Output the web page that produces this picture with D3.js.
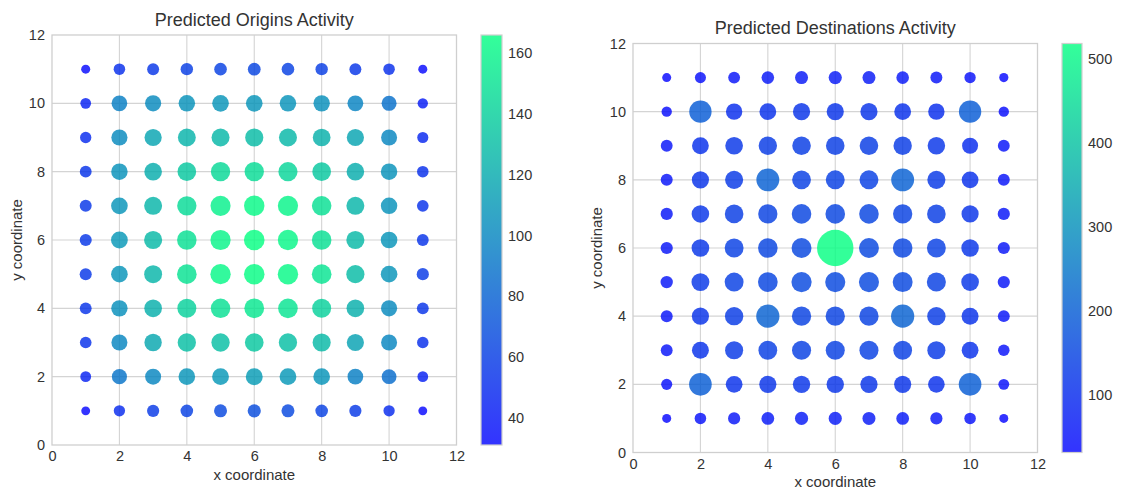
<!DOCTYPE html>
<html>
<head>
<meta charset="utf-8">
<script src="https://cdn.jsdelivr.net/npm/d3@7"></script>
<style>
  html, body { margin: 0; padding: 0; background: #ffffff; }
  svg { display: block; }
  text { font-family: "Liberation Sans", Arial, Helvetica, sans-serif; fill: #333333; }
</style>
</head>
<body>
<svg id="chart" width="1123" height="490"></svg>
<script>
// Grid coordinates of the zones
const xCoords = [1, 2, 3, 4, 5, 6, 7, 8, 9, 10, 11];
const yCoords = [11, 10, 9, 8, 7, 6, 5, 4, 3, 2, 1]; // one row of values per y, top row first

// Predicted origin activity, rows for y = 11 … 1, columns for x = 1 … 11
const originValues = [
  [32, 52, 56, 60, 62, 64, 62, 60, 56, 52, 32],
  [45, 96, 102, 106, 108, 108, 107, 105, 98, 88, 42],
  [50, 102, 116, 125, 127, 129, 127, 123, 116, 100, 48],
  [55, 106, 121, 136, 145, 147, 143, 136, 121, 106, 52],
  [56, 108, 126, 146, 158, 163, 160, 149, 126, 106, 53],
  [57, 110, 128, 149, 160, 166, 161, 149, 128, 108, 55],
  [57, 108, 126, 150, 162, 165, 163, 151, 129, 108, 58],
  [55, 105, 122, 141, 149, 153, 151, 141, 122, 102, 55],
  [53, 100, 118, 131, 131, 136, 131, 128, 115, 100, 52],
  [46, 90, 100, 108, 110, 112, 110, 108, 96, 86, 45],
  [31, 50, 58, 62, 66, 68, 66, 62, 58, 50, 31]
];

// Predicted destination activity, same layout
const destinationValues = [
  [32, 48, 55, 62, 66, 68, 66, 62, 56, 50, 33],
  [42, 195, 105, 110, 115, 115, 115, 110, 105, 195, 42],
  [55, 110, 122, 132, 135, 135, 135, 132, 120, 100, 55],
  [56, 115, 128, 205, 138, 140, 140, 205, 128, 110, 56],
  [58, 120, 135, 145, 150, 150, 150, 145, 135, 115, 58],
  [58, 122, 140, 150, 155, 518, 155, 150, 140, 120, 58],
  [60, 125, 140, 152, 160, 158, 158, 155, 142, 122, 58],
  [56, 115, 132, 210, 145, 145, 145, 210, 132, 112, 55],
  [55, 112, 128, 138, 142, 142, 142, 138, 128, 110, 52],
  [48, 200, 110, 115, 118, 118, 116, 115, 108, 200, 46],
  [32, 52, 58, 64, 68, 68, 66, 64, 58, 52, 32]
];

const axisTicks = [0, 2, 4, 6, 8, 10, 12];
const originColorTicks = [40, 60, 80, 100, 120, 140, 160];
const destinationColorTicks = [100, 200, 300, 400, 500];

const titles = ["Predicted Origins Activity", "Predicted Destinations Activity"];
const xLabel = "x coordinate";
const yLabel = "y coordinate";

// "winter" colour ramp: blue -> spring green
const winter = d3.interpolateRgb("rgb(0,0,255)", "rgb(0,255,128)");
const markerOpacity = 0.8;

// Marker area proportional to the value
const radius = d3.scaleSqrt().domain([0, 100]).range([0, 8]);

const svg = d3.select("#chart");

const panels = [
  {
    id: "origins", title: titles[0], values: originValues, colorTicks: originColorTicks,
    plot: { left: 52, right: 456.5, top: 35, bottom: 445 },
    bar: { left: 481, width: 21 },
    titleY: 20, xLabelY: 475, yLabelX: 17
  },
  {
    id: "destinations", title: titles[1], values: destinationValues, colorTicks: destinationColorTicks,
    plot: { left: 633, right: 1037.5, top: 43.5, bottom: 452.5 },
    bar: { left: 1062, width: 20 },
    titleY: 28, xLabelY: 482, yLabelX: 597
  }
];

panels.forEach(p => {
  const g = svg.append("g").attr("class", "panel-" + p.id);
  const x = d3.scaleLinear().domain([0, 12]).range([p.plot.left, p.plot.right]);
  const y = d3.scaleLinear().domain([0, 12]).range([p.plot.bottom, p.plot.top]);

  const points = [];
  p.values.forEach((row, ri) => row.forEach((v, ci) => points.push({ x: xCoords[ci], y: yCoords[ri], v })));
  const extent = d3.extent(points, d => d.v);
  const color = d3.scaleSequential(winter).domain(extent);

  // grid
  const grid = g.append("g").attr("class", "grid");
  grid.selectAll("line.gx").data(axisTicks.slice(1, -1)).join("line")
    .attr("x1", d => x(d)).attr("x2", d => x(d))
    .attr("y1", p.plot.top).attr("y2", p.plot.bottom)
    .attr("stroke", "#d4d4d4").attr("stroke-width", 1.1);
  grid.selectAll("line.gy").data(axisTicks.slice(1, -1)).join("line")
    .attr("y1", d => y(d)).attr("y2", d => y(d))
    .attr("x1", p.plot.left).attr("x2", p.plot.right)
    .attr("stroke", "#d4d4d4").attr("stroke-width", 1.1);

  // frame
  g.append("rect")
    .attr("x", p.plot.left).attr("y", p.plot.top)
    .attr("width", p.plot.right - p.plot.left).attr("height", p.plot.bottom - p.plot.top)
    .attr("fill", "none").attr("stroke", "#cfcfcf").attr("stroke-width", 1.3);

  // markers
  g.append("g").attr("class", "markers")
    .selectAll("circle").data(points).join("circle")
    .attr("cx", d => x(d.x)).attr("cy", d => y(d.y))
    .attr("r", d => radius(d.v))
    .attr("fill", d => color(d.v))
    .attr("fill-opacity", markerOpacity);

  // axes
  const xAxis = g.append("g").attr("transform", `translate(0,${p.plot.bottom})`)
    .call(d3.axisBottom(x).tickValues(axisTicks).tickSize(0).tickPadding(6).tickFormat(d3.format("d")));
  const yAxis = g.append("g").attr("transform", `translate(${p.plot.left},0)`)
    .call(d3.axisLeft(y).tickValues(axisTicks).tickSize(0).tickPadding(7).tickFormat(d3.format("d")));
  [xAxis, yAxis].forEach(a => {
    a.select(".domain").remove();
    a.selectAll("text").attr("font-size", 14.5).attr("fill", "#3a3a3a")
      .attr("font-family", '"Liberation Sans", Arial, sans-serif');
  });

  // titles and axis labels
  const cx = (p.plot.left + p.plot.right) / 2;
  const cy = (p.plot.top + p.plot.bottom) / 2;
  g.append("text").attr("x", cx).attr("y", p.titleY).attr("dy", "0.35em")
    .attr("text-anchor", "middle").attr("font-size", 18).text(p.title);
  g.append("text").attr("x", cx).attr("y", p.xLabelY).attr("dy", "0.35em")
    .attr("text-anchor", "middle").attr("font-size", 15).text(xLabel);
  g.append("text").attr("transform", `translate(${p.yLabelX},${cy}) rotate(-90)`).attr("dy", "0.35em")
    .attr("text-anchor", "middle").attr("font-size", 15).text(yLabel);

  // colour bar
  const gradId = "grad-" + p.id;
  const grad = svg.append("defs").append("linearGradient")
    .attr("id", gradId).attr("x1", 0).attr("y1", 1).attr("x2", 0).attr("y2", 0);
  d3.range(0, 1.0001, 0.1).forEach(t => {
    grad.append("stop").attr("offset", t).attr("stop-color", winter(t)).attr("stop-opacity", markerOpacity);
  });
  const cb = d3.scaleLinear().domain(extent).range([p.plot.bottom, p.plot.top]);
  g.append("rect")
    .attr("x", p.bar.left).attr("y", p.plot.top)
    .attr("width", p.bar.width).attr("height", p.plot.bottom - p.plot.top)
    .attr("fill", `url(#${gradId})`)
    .attr("stroke", "#cfcfcf").attr("stroke-width", 1.2);
  const cbAxis = g.append("g").attr("transform", `translate(${p.bar.left + p.bar.width},0)`)
    .call(d3.axisRight(cb).tickValues(p.colorTicks).tickSize(0).tickPadding(6).tickFormat(d3.format("d")));
  cbAxis.select(".domain").remove();
  cbAxis.selectAll("text").attr("font-size", 14.5).attr("fill", "#3a3a3a")
    .attr("font-family", '"Liberation Sans", Arial, sans-serif');
});
</script>
</body>
</html>
